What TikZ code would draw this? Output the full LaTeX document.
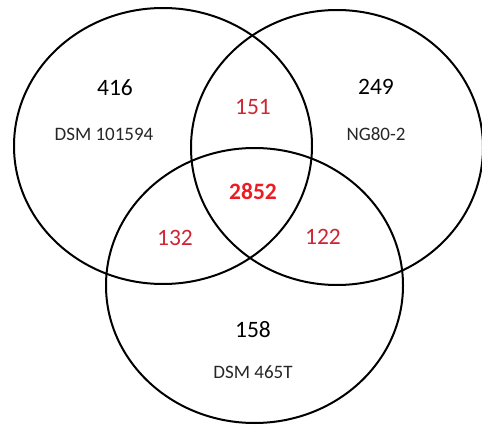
\documentclass[tikz,border=0pt]{standalone}
\usepackage{fontspec}
\usepackage{xcolor}
\setmainfont{Carlito}

\definecolor{overlapred}{RGB}{205,38,52}
\definecolor{corered}{RGB}{237,28,36}

\tikzset{
  setring/.style={line width=2pt, black},
  count/.style={font=\fontsize{23.5}{27}\selectfont},
  strain/.style={font=\fontsize{19}{23}\selectfont, text=black!85},
  shared/.style={font=\fontsize{23.5}{27}\selectfont, text=overlapred},
  core/.style={font=\bfseries\fontsize{23.5}{27}\selectfont, text=corered}
}

\begin{document}
\begin{tikzpicture}[x=1pt, y=-1pt]
  \useasboundingbox (0,0) rectangle (482,425);
  \begin{scope}
    \clip (0,0) rectangle (482,425);
    % the three strains
    \draw[setring] (163,146) ellipse [x radius=149pt, y radius=138pt];
    \draw[setring] (337,147.5) ellipse [x radius=146pt, y radius=137.5pt];
    \draw[setring] (254.5,285.5) ellipse [x radius=148.5pt, y radius=137.5pt];
  \end{scope}

  % unique genes
  \node[count] (onlyA) at (115,88) {416};
  \node[strain] (nameA) at (104,134) {DSM 101594};
  \node[count] (onlyB) at (376,87) {249};
  \node[strain] (nameB) at (376,134) {NG80-2};
  \node[count] (onlyC) at (253,330) {158};
  \node[strain] (nameC) at (253,372) {DSM 465T};

  % shared genes
  \node[shared] (AB) at (253,107) {151};
  \node[shared] (AC) at (175,238) {132};
  \node[shared] (BC) at (323,237) {122};
  \node[core] (ABC) at (253,191) {2852};
\end{tikzpicture}
\end{document}
